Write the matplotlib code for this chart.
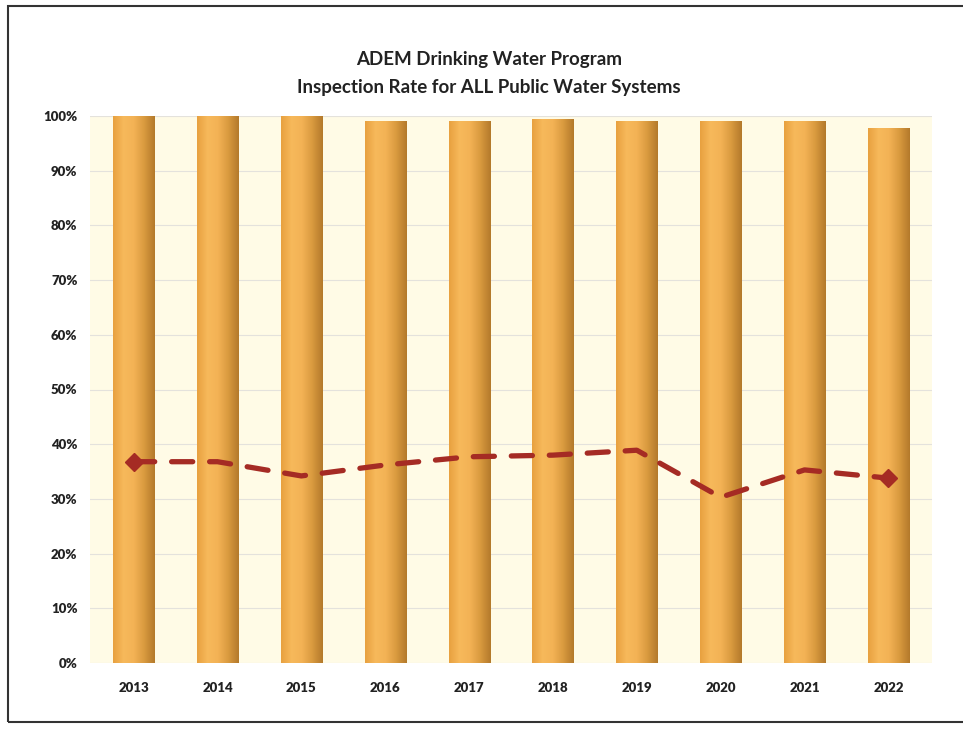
import numpy as np
import matplotlib.pyplot as plt
from matplotlib.colors import LinearSegmentedColormap
from matplotlib.patches import Rectangle

years = ['2013', '2014', '2015', '2016', '2017', '2018', '2019', '2020', '2021', '2022']
# bar height = share of systems (fraction), line = inspection rate
bars = [1.00, 1.00, 1.00, 0.99, 0.99, 0.993, 0.99, 0.99, 0.99, 0.978]
rate = [0.368, 0.368, 0.342, 0.362, 0.377, 0.380, 0.389, 0.303, 0.353, 0.338]

plt.rcParams['font.family'] = ['Lato', 'DejaVu Sans']

fig = plt.figure(figsize=(9.63, 7.32), dpi=100)
ax = fig.add_axes([90/963, (732-663)/732, (932-90)/963, (663-116)/732])
ax.set_facecolor('#fffbe6')

x = np.arange(len(years))
w = 0.49

# gradient for the cylinder look
cmap = LinearSegmentedColormap.from_list('bar', ['#e8a140', '#f7b95b', '#f3b255', '#d99a3f', '#b47a2b'])
grad = np.linspace(0, 1, 64).reshape(1, -1)
for xi, h in zip(x, bars):
    ax.imshow(grad, cmap=cmap, aspect='auto', extent=[xi - w/2, xi + w/2, 0, h], zorder=2)

ax.plot(x, rate, color='#a52b24', lw=3.8, linestyle=(0, (4, 3.2)), dash_capstyle='round',
        marker='D', markersize=9, markevery=[0, len(x) - 1], zorder=3)

ax.set_xlim(-0.52, 9.52)
ax.set_ylim(0, 1)
ticks = np.arange(0, 1.01, 0.1)
ax.set_yticks(ticks)
ax.set_yticklabels([f'{int(round(v*100))}%' for v in ticks], fontsize=9.5, fontweight='heavy', color='#222222')
ax.set_xticks(x)
ax.set_xticklabels(years, fontsize=9.5, fontweight='heavy', color='#222222')
ax.tick_params(length=0, pad=9)
ax.tick_params(axis='x', pad=14)
ax.grid(axis='y', color='#e4e2dc', lw=0.8, zorder=0)
ax.set_axisbelow(True)
for s in ax.spines.values():
    s.set_visible(False)

fig.text(489/963, 1 - 60/732, 'ADEM Drinking Water Program', ha='center', va='center',
         fontsize=13.5, fontweight='bold', color='#222222')
fig.text(489/963, 1 - 87/732, 'Inspection Rate for ALL Public Water Systems', ha='center', va='center',
         fontsize=13.5, fontweight='bold', color='#222222')

fig.add_artist(Rectangle((8/963, 1 - 722/732), (975-8)/963, (722-6)/732, transform=fig.transFigure,
                         fill=False, edgecolor='#333333', lw=1.5))

fig.savefig('out.png', dpi=100)
